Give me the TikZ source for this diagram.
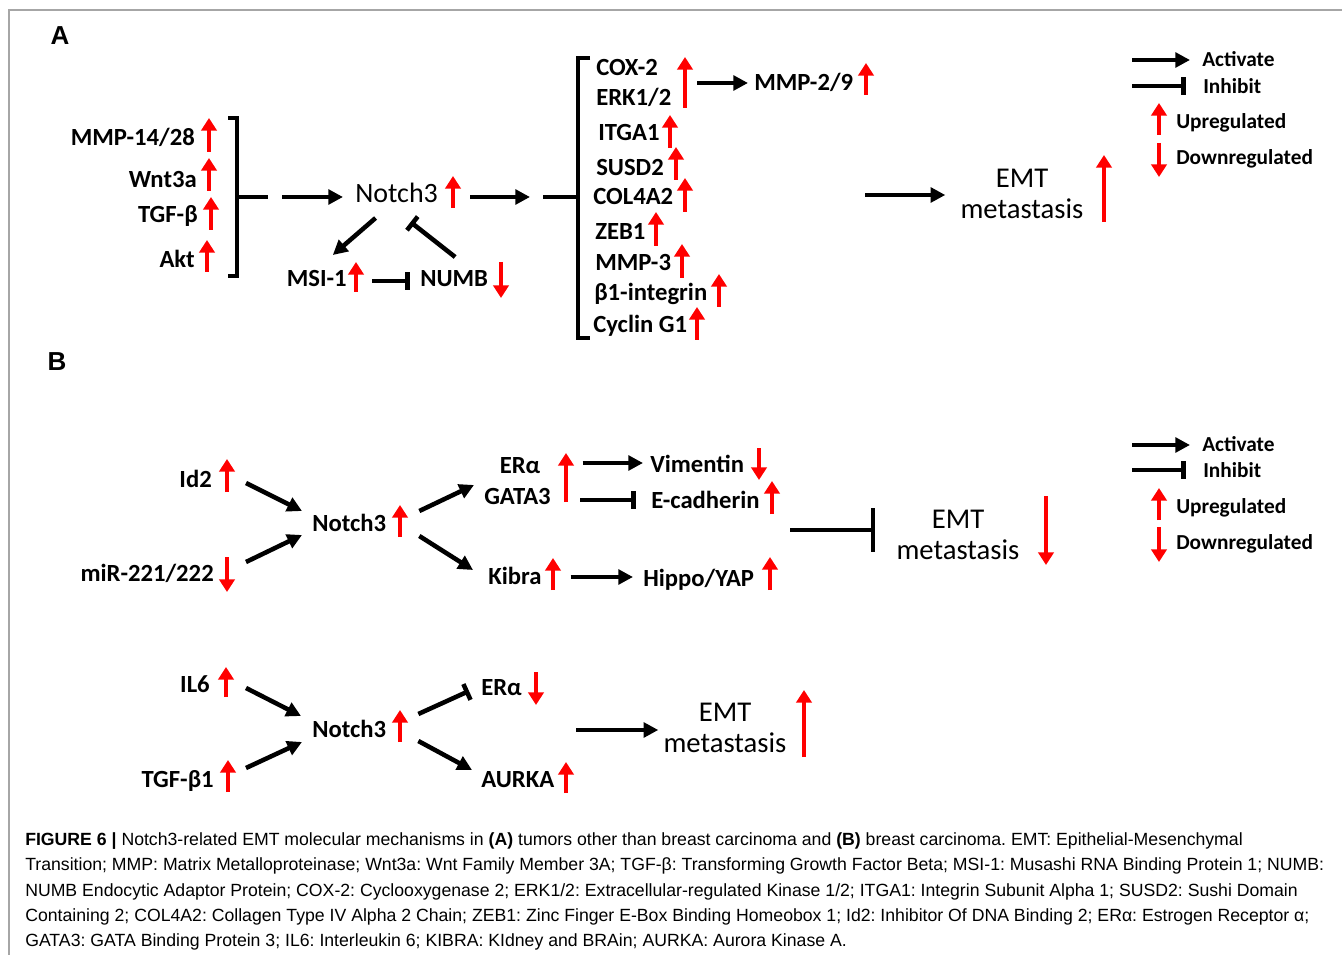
\documentclass[tikz,border=0pt]{standalone}
\usepackage{fontspec}
\setmainfont{Carlito}
\newfontfamily\capfont{Liberation Sans}
\usetikzlibrary{arrows.meta,calc}
\frenchspacing

\tikzset{
	frm/.style={draw=gray!70, line width=1.1pt},
	panel/.style={font=\capfont\bfseries\fontsize{19.5}{21}\selectfont, inner sep=0pt},
	lbl/.style={font=\bfseries\fontsize{18.5}{20}\selectfont, inner sep=0pt, text height=11.9pt, text depth=0pt},
	hub/.style={font=\fontsize{21}{23}\selectfont, inner sep=0pt, text height=13.5pt, text depth=0pt},
	big/.style={font=\fontsize{21.5}{23.5}\selectfont, inner sep=0pt, align=center},
	legtext/.style={font=\bfseries\fontsize{16}{18}\selectfont, inner sep=0pt, text height=10.3pt, text depth=0pt, anchor=west},
	captext/.style={font=\capfont\fontsize{13.25}{15}\selectfont, inner sep=0pt, text height=9.5pt, text depth=0pt, anchor=west},
	brk/.style={line width=3.2pt},
	act/.style={line width=3.4pt, -{Triangle[length=11pt,width=11pt]}},
	inh/.style={line width=3.4pt, -{Bar[width=13pt]}},
	upar/.style={red, line width=3pt, -{Triangle[length=9.5pt,width=11.5pt]}}
}

\begin{document}
\begin{tikzpicture}[x=0.75pt,y=-0.75pt]
	\useasboundingbox (0,0) rectangle (1342,955);
	\draw[frm] (9,955) -- (9,10) -- (1342,10);

	\node[panel] (pa) at (60,36) {A};
	\node[panel] (pb) at (57,362) {B};

	% A: upstream
	\node[lbl, anchor=east] (mmpa) at (195,138) {MMP-14/28};
	\node[lbl, anchor=east] (wnt) at (197,180) {Wnt3a};
	\node[lbl, anchor=east] (tgfa) at (198,215) {TGF-β};
	\node[lbl, anchor=east] (akt) at (195,260) {Akt};
	\draw[upar] (209,152) -- (209,118);
	\draw[upar] (209,191) -- (209,158);
	\draw[upar] (211,230) -- (211,197);
	\draw[upar] (207,272) -- (207,240);
	\draw[brk] (228,118) -- (237,118) -- (237,276) -- (228,276);
	\coordinate (brl) at (237,197);
	\draw[brk] (brl) -- +(31,0);

	\node[hub, anchor=west] (notcha) at (355,194) {Notch3};
	\draw[upar] (453,208) -- (453,176);
	\draw[act] ($(brl)+(45,0)$) -- ($(notcha.west)+(-12,3)$);

	\node[lbl, anchor=east] (msi) at (347,279) {MSI-1};
	\node[lbl, anchor=west] (numb) at (420,279) {NUMB};
	\draw[upar] (356,292) -- (356,262);
	\draw[upar] (501,262) -- (501,298);
	\draw[act] ($(notcha)+(-21,24)$) -- ($(msi)+(16,-24)$);
	\draw[inh] ($(numb)+(1,-22)$) -- ($(notcha)+(14,28)$);
	\draw[inh] ($(msi.east)+(25,2)$) -- ($(numb.west)+(-10,2)$);

	% A: downstream
	\coordinate (brr) at (578,197);
	\draw[act] ($(notcha.east)+(32,3)$) -- ($(brr)+(-48,0)$);
	\draw[brk] (brr) -- +(-35,0);
	\draw[brk] (590,58) -- (578,58) -- (578,338) -- (590,338);

	\node[lbl, anchor=west] (cox) at (596,68) {COX-2};
	\node[lbl, anchor=west] (erk) at (596,98) {ERK1/2};
	\node[lbl, anchor=west] (itga) at (598,133) {ITGA1};
	\node[lbl, anchor=west] (susd) at (596,168) {SUSD2};
	\node[lbl, anchor=west] (col) at (593,197) {COL4A2};
	\node[lbl, anchor=west] (zeb) at (595,232) {ZEB1};
	\node[lbl, anchor=west] (mmpt) at (595,263) {MMP-3};
	\node[lbl, anchor=west] (bint) at (594,293) {β1-integrin};
	\node[lbl, anchor=west] (cyc) at (593,325) {Cyclin G1};
	\draw[upar] (685,108) -- (685,57);
	\draw[upar] (670,148) -- (670,115);
	\draw[upar] (676,180) -- (676,147);
	\draw[upar] (685,212) -- (685,178);
	\draw[upar] (656,246) -- (656,212);
	\draw[upar] (682,278) -- (682,244);
	\draw[upar] (719,307) -- (719,274);
	\draw[upar] (697,340) -- (697,307);

	\node[lbl, anchor=west] (mmpn) at (754,83) {MMP-2/9};
	\draw[upar] (866,95) -- (866,63);
	\draw[act] ($(cox.west)+(101,15)$) -- ($(mmpn.west)+(-6,0)$);

	\node[big] (emta) at (1022,194) {EMT\\metastasis};
	\draw[upar] (1104,222) -- (1104,155);
	\draw[act] ($(emta.west)+(-95,1)$) -- ($(emta.west)+(-15,1)$);

	% A: key
	\node[legtext] (acta) at (1202,60) {Activate};
	\node[legtext] (inha) at (1203,87) {Inhibit};
	\node[legtext] (upa) at (1176,122) {Upregulated};
	\node[legtext] (dna) at (1176,158) {Downregulated};
	\draw[act] ($(acta.west)+(-70,0)$) -- ($(acta.west)+(-12,0)$);
	\draw[inh] ($(inha.west)+(-71,-1)$) -- ($(inha.west)+(-17,-1)$);
	\draw[upar] (1159,135) -- (1159,103);
	\draw[upar] (1159,143) -- (1159,177);

	% B: upper
	\node[lbl, anchor=east] (idtwo) at (212,480) {Id2};
	\node[lbl, anchor=east] (mir) at (214,574) {miR-221/222};
	\draw[upar] (227,492) -- (227,459);
	\draw[upar] (227,557) -- (227,592);
	\node[lbl, anchor=west] (notchb) at (312,524) {Notch3};
	\draw[upar] (400,537) -- (400,505);
	\draw[act] ($(idtwo.east)+(34,3)$) -- ($(notchb.west)+(-10,-13)$);
	\draw[act] ($(mir.east)+(32,-12)$) -- ($(notchb.west)+(-10,11)$);

	\node[lbl] (era) at (520,466) {ERα};
	\node[lbl, anchor=west] (gata) at (484,497) {GATA3};
	\node[lbl, anchor=west] (kib) at (488,577) {Kibra};
	\draw[upar] (566,502) -- (566,453);
	\draw[upar] (553,590) -- (553,558);
	\draw[act] ($(notchb.east)+(33,-13)$) -- ($(gata.west)+(-10,-12)$);
	\draw[act] ($(notchb.east)+(33,12)$) -- ($(kib.west)+(-15,-7)$);

	\node[lbl, anchor=west] (vim) at (650,465) {Vimentin};
	\node[lbl, anchor=west] (ecad) at (651,501) {E-cadherin};
	\node[lbl, anchor=west] (hip) at (643,579) {Hippo/YAP};
	\draw[upar] (759,448) -- (759,480);
	\draw[upar] (772,514) -- (772,481);
	\draw[upar] (770,590) -- (770,557);
	\draw[act] ($(era.east)+(42,-3)$) -- ($(vim.west)+(-7,-2)$);
	\draw[inh] ($(gata.east)+(29,3)$) -- ($(ecad.west)+(-15,-1)$);
	\draw[act] ($(kib.east)+(29,0)$) -- ($(hip.west)+(-10,-2)$);

	\node[big] (emtb) at (958,535) {EMT\\metastasis};
	\draw[upar] (1046,496) -- (1046,565);
	\draw[inh, -{Bar[width=33pt]}] ($(emtb.west)+(-106,-5)$) -- ($(emtb.west)+(-21,-5)$);

	% B: key
	\node[legtext] (actb) at (1202,445) {Activate};
	\node[legtext] (inhb) at (1203,471) {Inhibit};
	\node[legtext] (upb) at (1176,507) {Upregulated};
	\node[legtext] (dnb) at (1176,543) {Downregulated};
	\draw[act] ($(actb.west)+(-70,0)$) -- ($(actb.west)+(-12,0)$);
	\draw[inh] ($(inhb.west)+(-71,-1)$) -- ($(inhb.west)+(-17,-1)$);
	\draw[upar] (1159,520) -- (1159,488);
	\draw[upar] (1159,527) -- (1159,562);

	% B: lower
	\node[lbl, anchor=east] (ilsix) at (210,685) {IL6};
	\node[lbl, anchor=east] (tgfb) at (214,780) {TGF-β1};
	\draw[upar] (226,697) -- (226,667);
	\draw[upar] (228,792) -- (228,760);
	\node[lbl, anchor=west] (notchc) at (312,730) {Notch3};
	\draw[upar] (400,742) -- (400,710);
	\draw[act] ($(ilsix.east)+(36,3)$) -- ($(notchc.west)+(-11,-14)$);
	\draw[act] ($(tgfb.east)+(32,-12)$) -- ($(notchc.west)+(-10,12)$);

	\node[lbl, anchor=west] (erac) at (481,688) {ERα};
	\node[lbl, anchor=west] (aurka) at (481,780) {AURKA};
	\draw[upar] (536,672) -- (536,705);
	\draw[upar] (566,793) -- (566,762);
	\draw[inh] ($(notchc.east)+(32,-16)$) -- ($(erac.west)+(-12,3)$);
	\draw[act] ($(notchc.east)+(32,11)$) -- ($(aurka.west)+(-9,-10)$);

	\node[big] (emtc) at (725,728) {EMT\\metastasis};
	\draw[upar] (804,757) -- (804,690);
	\draw[act] ($(emtc.west)+(-87,2)$) -- ($(emtc.west)+(-5,2)$);

	% caption
	\node[captext] (capa) at (25,839) {\textbf{FIGURE 6 |} Notch3-related EMT molecular mechanisms in \textbf{(A)} tumors other than breast carcinoma and \textbf{(B)} breast carcinoma. EMT: Epithelial-Mesenchymal};
	\node[captext] (capb) at (25,864) {Transition; MMP: Matrix Metalloproteinase; Wnt3a: Wnt Family Member 3A; TGF-β: Transforming Growth Factor Beta; MSI-1: Musashi RNA Binding Protein 1; NUMB:};
	\node[captext] (capc) at (25,890) {NUMB Endocytic Adaptor Protein; COX-2: Cyclooxygenase 2; ERK1/2: Extracellular-regulated Kinase 1/2; ITGA1: Integrin Subunit Alpha 1; SUSD2: Sushi Domain};
	\node[captext] (capd) at (25,915) {Containing 2; COL4A2: Collagen Type IV Alpha 2 Chain; ZEB1: Zinc Finger E-Box Binding Homeobox 1; Id2: Inhibitor Of DNA Binding 2; ERα: Estrogen Receptor α;};
	\node[captext] (cape) at (25,940) {GATA3: GATA Binding Protein 3; IL6: Interleukin 6; KIBRA: KIdney and BRAin; AURKA: Aurora Kinase A.};
\end{tikzpicture}
\end{document}
